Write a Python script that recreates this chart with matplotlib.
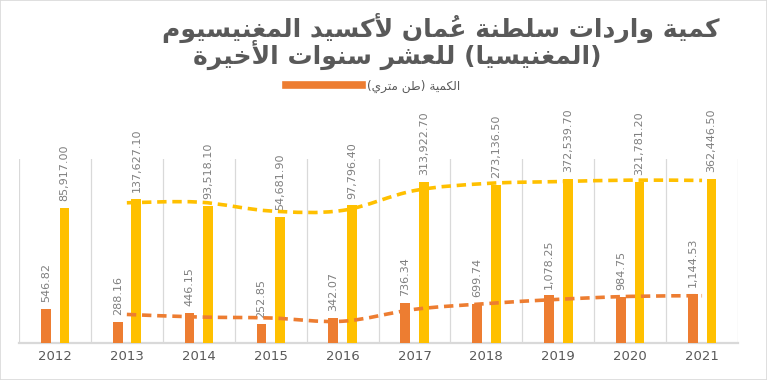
import matplotlib
matplotlib.use("Agg")
import matplotlib.pyplot as plt
import numpy as np
import pandas as pd
from matplotlib.lines import Line2D
from matplotlib.path import Path
from matplotlib.patches import PathPatch, Rectangle

# data
years = ["2012", "2013", "2014", "2015", "2016", "2017", "2018", "2019", "2020", "2021"]
quantity = [546.82, 288.16, 446.15, 252.85, 342.07, 736.34, 699.74, 1078.25, 984.75, 1144.53]
value = [85917.00, 137627.10, 93518.10, 54681.90, 97796.40, 313922.70, 273136.50, 372539.70, 321781.20, 362446.50]

title_line1 = "كمية واردات سلطنة عُمان لأكسيد المغنيسيوم"
title_line2 = "(المغنيسيا) للعشر سنوات الأخيرة"
legend_label = "الكمية (طن متري)"

ORANGE = "#ED7D31"
YELLOW = "#FFC000"
GRID = "#D9D9D9"
TEXT = "#595959"
LABEL = "#7F7F7F"

# --- minimal arabic shaping (matplotlib has no bidi / joining support) ---
_dual = {0x0626: 0xFE89, 0x0628: 0xFE8F, 0x062A: 0xFE95, 0x062B: 0xFE99, 0x062C: 0xFE9D,
         0x062D: 0xFEA1, 0x062E: 0xFEA5, 0x0633: 0xFEB1, 0x0634: 0xFEB5, 0x0635: 0xFEB9,
         0x0636: 0xFEBD, 0x0637: 0xFEC1, 0x0638: 0xFEC5, 0x0639: 0xFEC9, 0x063A: 0xFECD,
         0x0641: 0xFED1, 0x0642: 0xFED5, 0x0643: 0xFED9, 0x0644: 0xFEDD, 0x0645: 0xFEE1,
         0x0646: 0xFEE5, 0x0647: 0xFEE9, 0x064A: 0xFEF1}
_right = {0x0622: 0xFE81, 0x0623: 0xFE83, 0x0624: 0xFE85, 0x0625: 0xFE87, 0x0627: 0xFE8D,
          0x0629: 0xFE93, 0x062F: 0xFEA9, 0x0630: 0xFEAB, 0x0631: 0xFEAD, 0x0632: 0xFEAF,
          0x0648: 0xFEED, 0x0649: 0xFEEF}
_lamalef = {0x0622: 0xFEF5, 0x0623: 0xFEF7, 0x0625: 0xFEF9, 0x0627: 0xFEFB}


def _jtype(ch):
    c = ord(ch)
    if c in _dual:
        return "D"
    if c in _right:
        return "R"
    if 0x064B <= c <= 0x0652:
        return "T"
    return "U"


def shape_ar(text):
    chars = list(text)
    # merge lam + alef into one unit
    units = []
    i = 0
    while i < len(chars):
        if ord(chars[i]) == 0x0644 and i + 1 < len(chars) and ord(chars[i + 1]) in _lamalef:
            units.append(("LA", chars[i + 1]))
            i += 2
        else:
            units.append((_jtype(chars[i]), chars[i]))
            i += 1
    out = []
    for k, (jt, ch) in enumerate(units):
        if jt in ("T", "U"):
            out.append(ch)
            continue
        prev = None
        for j in range(k - 1, -1, -1):
            if units[j][0] != "T":
                prev = units[j][0]
                break
        nxt = None
        for j in range(k + 1, len(units)):
            if units[j][0] != "T":
                nxt = units[j][0]
                break
        jp = prev == "D"
        if jt == "LA":
            base = _lamalef[ord(ch)]
            out.append(chr(base + (1 if jp else 0)))
            continue
        jn = jt == "D" and nxt in ("D", "R", "LA")
        base = _dual.get(ord(ch), _right.get(ord(ch)))
        if jp and jn:
            f = base + 3
        elif jp:
            f = base + 1
        elif jn:
            f = base + 2
        else:
            f = base
        out.append(chr(f))
    # plain reversal to visual order; marks end up just before their base
    mirror = {"(": ")", ")": "("}
    return "".join(mirror.get(c, c) for c in reversed(out))


fig = plt.figure(figsize=(7.67, 3.80), dpi=100)
fig.patches.append(Rectangle((0, 0), 1, 1, transform=fig.transFigure, fill=False,
                             edgecolor=GRID, lw=1.2))
ax = fig.add_axes([19 / 767, 1 - 343 / 380, (738 - 19) / 767, (343 - 159) / 380])

x = np.arange(len(years))
w = 0.135
ax.bar(x - 0.128, quantity, width=w, color=ORANGE, zorder=3)
ax.bar(x + 0.132, value, width=w, color=YELLOW, zorder=3)
ax.set_yscale("log")
ax.set_ylim(100, 1e6)
ax.set_xlim(-0.5, len(years) - 0.5)

for xi, q, v in zip(x, quantity, value):
    ax.annotate(f"{q:,.2f}", (xi - 0.128, q), xytext=(0, 5), textcoords="offset points",
                rotation=90, ha="center", va="bottom", fontsize=8, color=LABEL)
    ax.annotate(f"{v:,.2f}", (xi + 0.132, v), xytext=(0, 5), textcoords="offset points",
                rotation=90, ha="center", va="bottom", fontsize=8, color=LABEL)


# moving average trendlines (period 2), smoothed like excel
def smooth_trend(vals, color):
    ma = pd.Series(vals).rolling(2).mean().to_numpy()[1:]
    px = x[1:].astype(float)
    py = np.log10(ma)
    verts = [(px[0], py[0])]
    codes = [Path.MOVETO]
    n = len(px)
    for i in range(n - 1):
        p0 = (px[max(i - 1, 0)], py[max(i - 1, 0)])
        p1 = (px[i], py[i])
        p2 = (px[i + 1], py[i + 1])
        p3 = (px[min(i + 2, n - 1)], py[min(i + 2, n - 1)])
        c1 = (p1[0] + (p2[0] - p0[0]) / 6, p1[1] + (p2[1] - p0[1]) / 6)
        c2 = (p2[0] - (p3[0] - p1[0]) / 6, p2[1] - (p3[1] - p1[1]) / 6)
        verts += [c1, c2, p2]
        codes += [Path.CURVE4] * 3
    verts = [(a, 10 ** b) for a, b in verts]
    patch = PathPatch(Path(verts, codes), fill=False, edgecolor=color, lw=2.6,
                      linestyle=(0, (2.6, 1.6)), zorder=4)
    ax.add_patch(patch)


smooth_trend(quantity, ORANGE)
smooth_trend(value, YELLOW)

for b in np.arange(-0.5, len(years), 1.0):
    ax.axvline(b, color=GRID, lw=0.9, zorder=1)

for s in ["top", "right", "left"]:
    ax.spines[s].set_visible(False)
ax.spines["bottom"].set_color(GRID)
ax.spines["bottom"].set_linewidth(1.6)
ax.set_yticks([])
ax.yaxis.set_minor_locator(matplotlib.ticker.NullLocator())
ax.set_xticks(x)
ax.set_xticklabels(years, fontsize=9.5, color=TEXT)
ax.tick_params(axis="x", length=0, pad=5)

# wrapped title as one text; trailing pad on line 2 pulls it left like the original
title = shape_ar(title_line1) + "\n" + shape_ar(title_line2) + " " * 10
fig.text(441 / 767, 1 - 41.5 / 380, title, ha="center", va="center",
         multialignment="center", linespacing=0.85,
         fontsize=18, fontweight="bold", color=TEXT)

fig.legend(handles=[Line2D([], [], color=ORANGE, lw=5.5)], labels=[shape_ar(legend_label)],
           loc="center", bbox_to_anchor=(373 / 767, 1 - 86 / 380), frameon=False,
           fontsize=8.7, handlelength=6.3, handletextpad=0.4, labelcolor=TEXT)

fig.savefig("out.png", dpi=100)
